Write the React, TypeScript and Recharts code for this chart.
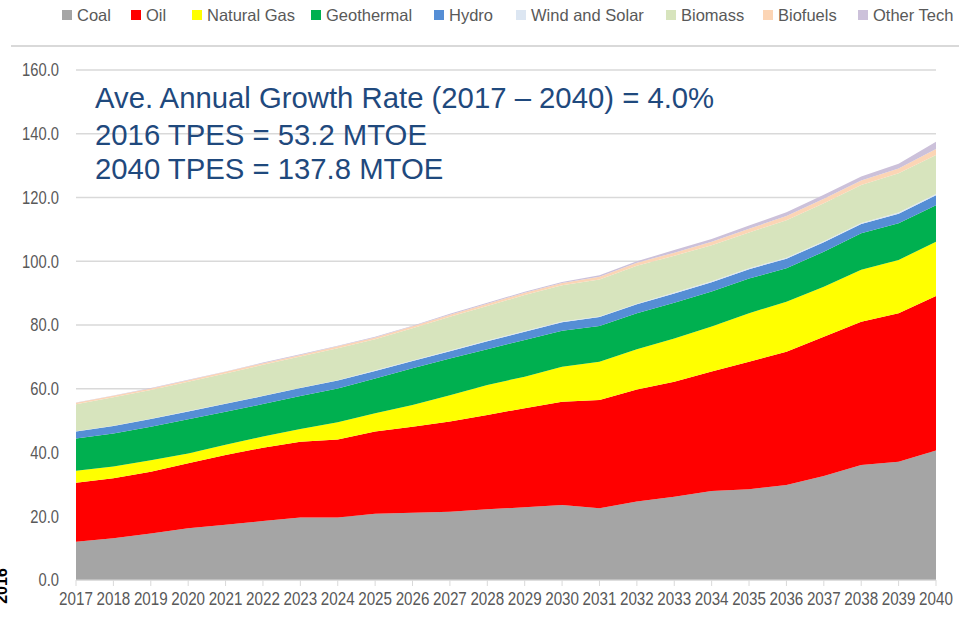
import { AreaChart, Area, XAxis, YAxis, CartesianGrid } from 'recharts';

// years on the x axis
const years = [
  '2017', '2018', '2019', '2020', '2021', '2022', '2023', '2024', '2025', '2026', '2027', '2028',
  '2029', '2030', '2031', '2032', '2033', '2034', '2035', '2036', '2037', '2038', '2039', '2040',
];

// MTOE per source
const coal = [12.0, 13.1, 14.6, 16.2, 17.3, 18.5, 19.6, 19.6, 20.8, 21.1, 21.4, 22.2, 22.8, 23.5, 22.5, 24.6, 26.1, 27.9, 28.5, 29.8, 32.6, 36.1, 37.1, 40.6];
const oil = [18.5, 18.8, 19.4, 20.4, 21.9, 23.0, 23.8, 24.5, 25.8, 27.0, 28.3, 29.6, 31.1, 32.4, 34.0, 35.2, 36.1, 37.5, 40.0, 41.8, 43.7, 44.9, 46.6, 48.5];
const naturalGas = [3.8, 3.7, 3.6, 3.1, 3.2, 3.5, 4.0, 5.4, 5.7, 6.8, 8.3, 9.4, 9.9, 11.0, 12.0, 12.6, 13.6, 14.1, 15.2, 15.7, 15.7, 16.3, 16.7, 17.0];
const geothermal = [10.1, 10.4, 10.5, 10.7, 10.4, 10.2, 10.3, 10.6, 10.9, 11.5, 11.5, 11.2, 11.5, 11.3, 11.2, 11.3, 11.2, 11.0, 10.9, 10.5, 11.0, 11.5, 11.5, 11.5];
const hydro = [2.2, 2.3, 2.4, 2.5, 2.5, 2.5, 2.5, 2.5, 2.4, 2.3, 2.3, 2.5, 2.6, 2.7, 2.8, 2.8, 2.9, 2.9, 2.9, 3.0, 3.0, 2.9, 3.0, 3.1];
const windSolar = [0.1, 0.1, 0.1, 0.1, 0.1, 0.1, 0.1, 0.1, 0.2, 0.2, 0.2, 0.2, 0.2, 0.2, 0.2, 0.2, 0.3, 0.3, 0.3, 0.3, 0.3, 0.3, 0.4, 0.4];
const biomass = [8.4, 8.9, 9.0, 9.2, 9.4, 9.7, 9.8, 10.0, 9.7, 10.1, 10.6, 10.9, 11.3, 11.4, 11.6, 11.9, 11.5, 11.3, 11.2, 11.8, 11.9, 11.9, 12.3, 12.2];
const biofuels = [0.5, 0.5, 0.5, 0.5, 0.5, 0.5, 0.5, 0.6, 0.6, 0.6, 0.6, 0.7, 0.7, 0.7, 0.8, 0.9, 1.0, 1.1, 1.2, 1.3, 1.4, 1.4, 1.5, 1.9];
const otherTech = [0.1, 0.1, 0.1, 0.1, 0.1, 0.2, 0.2, 0.2, 0.2, 0.2, 0.3, 0.3, 0.3, 0.3, 0.5, 0.5, 0.8, 0.9, 1.0, 1.2, 1.3, 1.3, 1.5, 2.3];

const yTicks = [0, 20, 40, 60, 80, 100, 120, 140, 160];

const notes = [
  'Ave. Annual Growth Rate (2017 \u2013 2040) = 4.0%',
  '2016 TPES = 53.2 MTOE',
  '2040 TPES = 137.8 MTOE',
];

const series = [
  { key: 'coal', name: 'Coal', color: '#a5a5a5', values: coal },
  { key: 'oil', name: 'Oil', color: '#ff0000', values: oil },
  { key: 'gas', name: 'Natural Gas', color: '#ffff00', values: naturalGas },
  { key: 'geo', name: 'Geothermal', color: '#00b050', values: geothermal },
  { key: 'hydro', name: 'Hydro', color: '#558ed5', values: hydro },
  { key: 'wind', name: 'Wind and Solar', color: '#dce6f2', values: windSolar },
  { key: 'biomass', name: 'Biomass', color: '#d7e4bd', values: biomass },
  { key: 'biofuels', name: 'Biofuels', color: '#fcd5b5', values: biofuels },
  { key: 'other', name: 'Other Tech', color: '#ccc1da', values: otherTech },
];

const chartData = years.map((year, i) => {
  const row: Record<string, string | number> = { year };
  series.forEach(s => {
    row[s.key] = s.values[i];
  });
  return row;
});

// legend item left edges (px)
const legendLeft = [62, 131, 192, 311, 434, 516, 666, 763, 858];
const noteTop = [80, 117, 151];

const tickFont = "'Liberation Sans', Arial, sans-serif";

// the original axis font is a condensed face, so squeeze the glyphs horizontally
const XTick = (props: any) => {
  const { x, y, payload } = props;
  return (
    <g transform={`translate(${x},${y})`}>
      <text
        transform="scale(0.8,1)"
        x={0}
        y={0}
        dy="0.71em"
        textAnchor="middle"
        fill="#595959"
        fontSize={19}
        fontFamily={tickFont}
      >
        {payload.value}
      </text>
    </g>
  );
};

const YTick = (props: any) => {
  const { x, y, payload } = props;
  return (
    <g transform={`translate(${x},${y})`}>
      <text
        transform="scale(0.82,1)"
        x={0}
        y={0}
        dy="0.355em"
        textAnchor="end"
        fill="#595959"
        fontSize={18}
        fontFamily={tickFont}
      >
        {Number(payload.value).toFixed(1)}
      </text>
    </g>
  );
};

export default function App() {
  return (
    <div style={{ position: 'absolute', left: 0, top: 0, width: 959, height: 618, background: '#fff', overflow: 'hidden' }}>
      <AreaChart
        width={959}
        height={618}
        data={chartData}
        margin={{ top: 70, right: 23, left: 0, bottom: 0 }}
      >
        <CartesianGrid vertical={false} stroke="#d9d9d9" strokeWidth={1.5} />
        <XAxis
          dataKey="year"
          interval={0}
          height={38}
          tickSize={6}
          tickMargin={6}
          stroke="#d9d9d9"
          tick={<XTick />}
        />
        <YAxis
          domain={[0, 160]}
          ticks={yTicks}
          width={76}
          axisLine={false}
          tickLine={false}
          tickSize={0}
          tickMargin={17}
          tick={<YTick />}
        />
        {series.map(s => (
          <Area
            key={s.key}
            type="linear"
            dataKey={s.key}
            name={s.name}
            stackId="1"
            stroke="none"
            fill={s.color}
            fillOpacity={1}
            isAnimationActive={false}
          />
        ))}
      </AreaChart>

      {/* thin rule under the legend */}
      <div style={{ position: 'absolute', left: 11, top: 45, width: 948, height: 2, background: '#d9d9d9' }} />

      {/* legend */}
      <div style={{ position: 'absolute', left: 0, top: 0, width: 959, height: 30 }}>
        {series.map((s, i) => (
          <div
            key={s.key}
            style={{
              position: 'absolute',
              left: legendLeft[i],
              top: 4,
              display: 'flex',
              alignItems: 'center',
              whiteSpace: 'nowrap',
              fontFamily: "'Liberation Sans', Arial, sans-serif",
              fontSize: 16.5,
              color: '#595959',
              lineHeight: '22px',
            }}
          >
            <span style={{ display: 'inline-block', width: 10, height: 10, background: s.color, marginRight: 5 }} />
            {s.name}
          </div>
        ))}
      </div>

      {/* notes */}
      {notes.map((t, i) => (
        <div
          key={i}
          style={{
            position: 'absolute',
            left: 95,
            top: noteTop[i],
            fontFamily: "'Liberation Sans', Arial, sans-serif",
            fontSize: 29.3,
            lineHeight: '35px',
            color: '#1f497d',
            whiteSpace: 'nowrap',
          }}
        >
          {t}
        </div>
      ))}

      {/* label clipped at the left edge, as in the original slide */}
      <div
        style={{
          position: 'absolute',
          left: 2,
          top: 586,
          transform: 'translate(-50%, -50%) rotate(-90deg)',
          fontFamily: "'Liberation Sans', Arial, sans-serif",
          fontWeight: 'bold',
          fontSize: 16,
          color: '#000',
        }}
      >
        2016
      </div>
    </div>
  );
}
